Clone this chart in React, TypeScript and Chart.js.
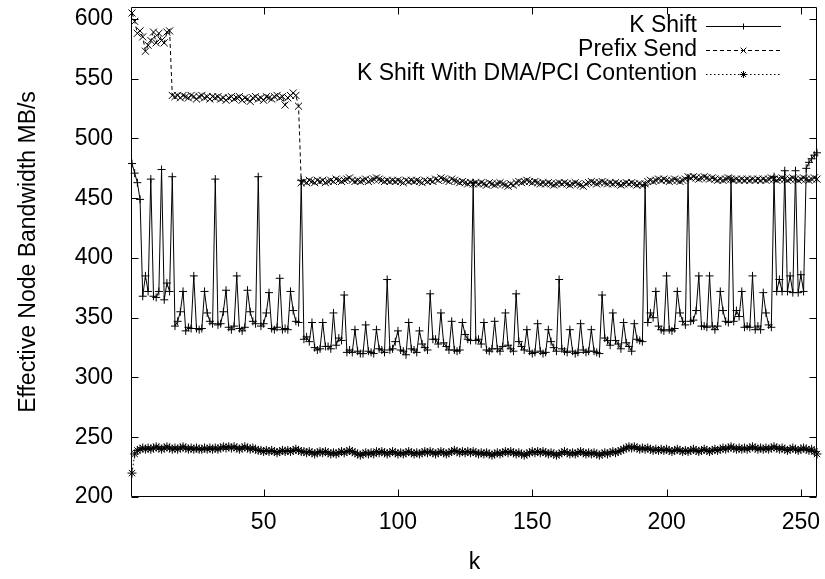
import React, { useEffect, useRef } from 'react';
import { Chart, registerables } from 'chart.js';

Chart.register(...registerables);

// k = 1 .. 256
const K_VALUES: number[] = Array.from({ length: 256 }, (_, i) => i + 1);
const X_TICKS = [50, 100, 150, 200, 250];
const Y_TICKS = [200, 250, 300, 350, 400, 450, 500, 550, 600];
const SERIES_NAMES = ['K Shift', 'Prefix Send', 'K Shift With DMA/PCI Contention'];

const K_SHIFT = [
  479, 471, 463, 449, 368, 385, 372, 466, 368, 367, 372, 474, 365, 379, 372, 468,
  343, 347, 355, 372, 339, 342, 341, 385, 341, 340, 341, 372, 354, 347, 345, 466,
  344, 345, 355, 373, 342, 340, 343, 385, 341, 339, 342, 373, 355, 347, 345, 468,
  343, 345, 354, 371, 341, 340, 342, 383, 340, 341, 340, 372, 356, 347, 346, 465,
  332, 334, 330, 346, 325, 323, 324, 346, 326, 326, 324, 354, 327, 333, 331, 369,
  321, 323, 321, 340, 322, 320, 320, 344, 322, 321, 320, 340, 324, 323, 321, 382,
  323, 324, 330, 339, 323, 322, 319, 346, 324, 323, 321, 339, 328, 325, 323, 370,
  332, 332, 328, 354, 329, 326, 323, 347, 323, 322, 323, 346, 336, 332, 331, 463,
  331, 332, 328, 346, 323, 322, 324, 347, 324, 322, 326, 354, 327, 324, 322, 370,
  330, 326, 323, 340, 322, 320, 321, 345, 322, 320, 321, 340, 330, 325, 322, 382,
  324, 322, 321, 340, 322, 320, 321, 345, 323, 321, 322, 340, 322, 321, 320, 369,
  333, 331, 327, 354, 331, 328, 324, 346, 329, 326, 322, 345, 332, 331, 330, 461,
  346, 354, 350, 372, 343, 340, 339, 385, 340, 339, 341, 372, 354, 347, 344, 467,
  347, 348, 356, 385, 343, 343, 342, 385, 343, 340, 343, 372, 356, 347, 346, 466,
  347, 356, 351, 372, 342, 343, 342, 385, 340, 343, 340, 371, 354, 344, 342, 468,
  372, 382, 372, 473, 372, 385, 371, 473, 371, 386, 372, 475, 480, 483, 486, 488,
];

const PREFIX_SEND = [
  605, 598, 588, 590, 585, 573, 578, 582, 589, 580, 588, 582, 580, 589, 590, 536,
  535, 536, 534, 536, 535, 534, 536, 535, 533, 535, 536, 534, 535, 533, 535, 534,
  535, 533, 534, 532, 534, 535, 533, 534, 535, 532, 534, 533, 531, 534, 535, 533,
  534, 532, 535, 534, 533, 535, 536, 534, 535, 528, 534, 536, 538, 536, 527, 463,
  464, 463, 465, 464, 463, 465, 464, 465, 463, 464, 465, 464, 466, 465, 464, 465,
  466, 467, 465, 464, 465, 464, 465, 466, 464, 465, 466, 467, 466, 465, 464, 465,
  464, 465, 464, 465, 464, 463, 465, 464, 465, 464, 465, 464, 463, 465, 464, 465,
  464, 466, 465, 467, 466, 465, 464, 466, 465, 464, 463, 464, 463, 462, 463, 462,
  463, 462, 463, 462, 461, 463, 462, 461, 462, 463, 462, 461, 460, 462, 461, 463,
  464, 463, 464, 465, 464, 463, 464, 463, 462, 463, 462, 463, 462, 461, 462, 463,
  462, 463, 462, 461, 462, 463, 462, 461, 460, 462, 463, 464, 463, 462, 463, 464,
  463, 462, 463, 462, 463, 462, 461, 462, 463, 462, 463, 462, 461, 462, 461, 462,
  464, 465, 464, 465, 466, 465, 466, 465, 464, 465, 466, 465, 464, 465, 466, 468,
  467, 468, 467, 466, 467, 468, 467, 466, 467, 466, 465, 466, 465, 466, 467, 466,
  465, 466, 465, 466, 465, 466, 465, 466, 465, 466, 465, 466, 465, 466, 467, 466,
  465, 466, 467, 466, 465, 466, 467, 466, 465, 466, 467, 466, 465, 466, 467, 466,
];

const K_SHIFT_DMA = [
  220, 236, 239, 240, 241, 240, 241, 240, 241, 242, 241, 240, 241, 242, 241, 240,
  241, 240, 241, 242, 241, 240, 241, 240, 241, 240, 240, 241, 240, 241, 240, 241,
  240, 241, 242, 241, 242, 241, 242, 241, 240, 241, 242, 241, 240, 241, 240, 239,
  239, 238, 239, 238, 239, 238, 237, 238, 239, 238, 239, 238, 239, 240, 239, 238,
  238, 237, 238, 237, 236, 237, 238, 237, 238, 237, 236, 237, 236, 237, 238, 237,
  238, 239, 238, 237, 236, 235, 236, 237, 236, 237, 236, 238, 237, 238, 237, 236,
  237, 238, 237, 236, 237, 236, 237, 238, 237, 236, 237, 236, 237, 238, 237, 238,
  237, 236, 237, 238, 237, 236, 237, 238, 239, 238, 237, 238, 237, 238, 237, 238,
  237, 236, 237, 236, 237, 236, 235, 236, 237, 236, 237, 238, 237, 238, 237, 236,
  237, 236, 235, 236, 237, 238, 237, 238, 237, 238, 237, 236, 237, 236, 235, 236,
  237, 238, 237, 236, 237, 236, 237, 238, 237, 236, 237, 236, 237, 236, 235, 236,
  237, 236, 237, 238, 237, 238, 239, 240, 241, 242, 241, 242, 241, 240, 241, 240,
  241, 240, 239, 240, 239, 240, 239, 240, 239, 238, 239, 240, 239, 238, 239, 238,
  239, 240, 239, 238, 239, 240, 239, 238, 239, 240, 239, 240, 241, 240, 241, 242,
  241, 240, 241, 240, 241, 240, 241, 242, 241, 240, 241, 240, 241, 240, 241, 242,
  241, 240, 241, 240, 239, 240, 241, 240, 239, 240, 241, 240, 239, 240, 238, 236,
];

const FONT = '"Liberation Sans", Arial, Helvetica, sans-serif';
const FONT_SIZE = 23;

const STYLES = [
  { dash: [] as number[], point: 'cross', radius: 4 },
  { dash: [4, 3], point: 'crossRot', radius: 5 },
  { dash: [1.5, 2.5], point: 'star', radius: 4.5 },
];

function drawMarker(ctx: CanvasRenderingContext2D, style: string, x: number, y: number, r: number) {
  ctx.beginPath();
  if (style === 'cross' || style === 'star') {
    ctx.moveTo(x - r, y); ctx.lineTo(x + r, y);
    ctx.moveTo(x, y - r); ctx.lineTo(x, y + r);
  }
  if (style === 'crossRot' || style === 'star') {
    const d = r * Math.SQRT1_2;
    ctx.moveTo(x - d, y - d); ctx.lineTo(x + d, y + d);
    ctx.moveTo(x - d, y + d); ctx.lineTo(x + d, y - d);
  }
  ctx.stroke();
}

const framePlugin = {
  id: 'gnuFrame',
  afterDatasetsDraw(chart: any) {
    const { ctx, chartArea: a, scales } = chart;
    const L = Math.round(a.left) - 0.5;
    const R = Math.round(a.right) - 0.5;
    const T = Math.round(a.top) + 0.5;
    const B = Math.round(a.bottom) - 0.5;
    const TL = 7;
    ctx.save();
    ctx.strokeStyle = '#000';
    ctx.lineWidth = 1;
    ctx.setLineDash([]);
    ctx.beginPath();
    ctx.rect(L, T, R - L, B - T);
    X_TICKS.forEach((v) => {
      const px = Math.round(scales.x.getPixelForValue(v)) + 0.5;
      ctx.moveTo(px, B); ctx.lineTo(px, B - TL);
      ctx.moveTo(px, T); ctx.lineTo(px, T + TL);
    });
    Y_TICKS.forEach((v) => {
      const py = Math.round(scales.y.getPixelForValue(v)) + 0.5;
      ctx.moveTo(L, py); ctx.lineTo(L + TL, py);
      ctx.moveTo(R, py); ctx.lineTo(R - TL, py);
    });
    ctx.stroke();
    ctx.restore();
  },
  afterDraw(chart: any) {
    const { ctx } = chart;
    const textRight = 697;
    const lineStart = 706;
    const lineEnd = 781;
    const rows = [26, 50, 74];
    ctx.save();
    ctx.font = `${FONT_SIZE}px ${FONT}`;
    ctx.fillStyle = '#000';
    ctx.textAlign = 'right';
    ctx.textBaseline = 'middle';
    SERIES_NAMES.forEach((name, i) => {
      const y = rows[i];
      ctx.fillText(name, textRight, y);
      ctx.strokeStyle = '#000';
      ctx.lineWidth = 1;
      ctx.setLineDash(STYLES[i].dash);
      ctx.beginPath();
      ctx.moveTo(lineStart, y + 0.5);
      ctx.lineTo(lineEnd, y + 0.5);
      ctx.stroke();
      ctx.setLineDash([]);
      drawMarker(ctx, STYLES[i].point, (lineStart + lineEnd) / 2, y + 0.5, STYLES[i].radius - 1);
    });
    ctx.restore();
  },
};

function noPad(s: any) {
  s.paddingTop = 0;
  s.paddingBottom = 0;
  s.paddingLeft = 0;
  s.paddingRight = 0;
}

export default function App() {
  const canvasRef = useRef<HTMLCanvasElement | null>(null);

  useEffect(() => {
    document.body.style.margin = '0';
    const canvas = canvasRef.current;
    if (!canvas) return;
    const seriesData = [K_SHIFT, PREFIX_SEND, K_SHIFT_DMA];
    const chart = new Chart(canvas, {
      type: 'line',
      data: {
        datasets: seriesData.map((values, i) => ({
          label: SERIES_NAMES[i],
          data: K_VALUES.map((k, j) => ({ x: k, y: values[j] })),
          borderColor: '#000',
          borderWidth: 1,
          borderDash: STYLES[i].dash,
          pointStyle: STYLES[i].point as any,
          pointRadius: STYLES[i].radius,
          pointBorderWidth: 1,
          pointBorderColor: '#000',
          pointBackgroundColor: '#000',
          fill: false,
          tension: 0,
          clip: false as any,
        })),
      },
      options: {
        animation: false,
        responsive: false,
        devicePixelRatio: 1,
        layout: { padding: { left: 0, right: 8, top: 7, bottom: 0 } },
        plugins: {
          legend: { display: false },
          tooltip: { enabled: false },
        },
        scales: {
          x: {
            type: 'linear',
            min: 1,
            max: 256,
            afterFit: (s: any) => { s.height = 82; noPad(s); },
            afterBuildTicks: (s: any) => { s.ticks = X_TICKS.map((v) => ({ value: v })); },
            grid: { display: false, drawTicks: false },
            border: { display: false },
            ticks: {
              font: { family: FONT, size: FONT_SIZE },
              color: '#000',
              padding: 12,
              maxRotation: 0,
              autoSkip: false,
            },
            title: {
              display: true,
              text: 'k',
              font: { family: FONT, size: FONT_SIZE },
              color: '#000',
              padding: { top: 0, bottom: 3 },
            },
          },
          y: {
            type: 'linear',
            min: 200,
            max: 610,
            afterFit: (s: any) => { s.width = 132; noPad(s); },
            afterBuildTicks: (s: any) => { s.ticks = Y_TICKS.map((v) => ({ value: v })); },
            grid: { display: false, drawTicks: false },
            border: { display: false },
            ticks: {
              font: { family: FONT, size: FONT_SIZE },
              color: '#000',
              padding: 19,
              autoSkip: false,
            },
            title: {
              display: true,
              text: 'Effective Node Bandwidth MB/s',
              font: { family: FONT, size: FONT_SIZE },
              color: '#000',
              padding: { top: 15, bottom: 0 },
            },
          },
        },
      },
      plugins: [framePlugin],
    });
    return () => chart.destroy();
  }, []);

  return (
    <div style={{ width: 825, height: 579 }}>
      <canvas ref={canvasRef} width={825} height={579} style={{ display: 'block' }} />
    </div>
  );
}
